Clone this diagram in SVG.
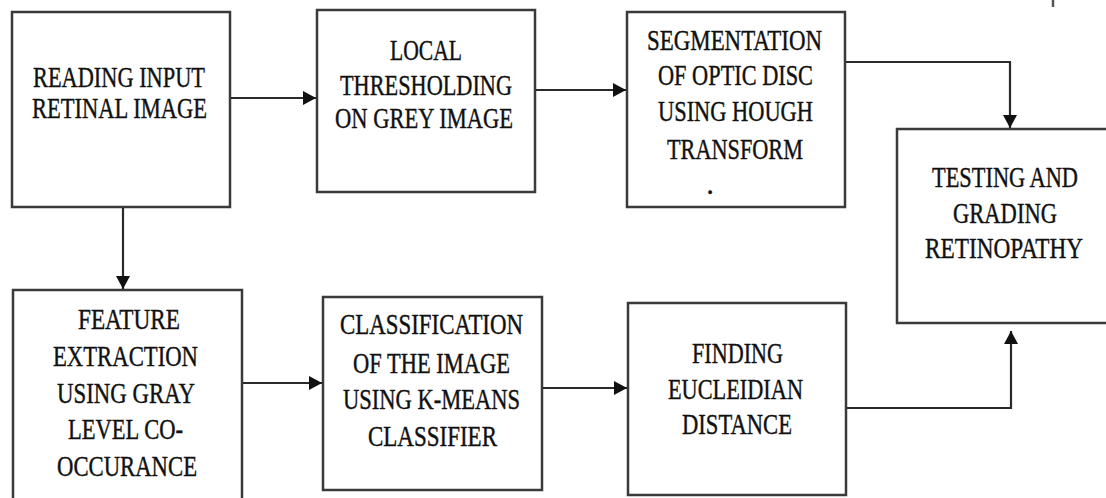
<svg xmlns="http://www.w3.org/2000/svg" width="1106" height="498" viewBox="0 0 1106 498" font-family="Liberation Serif, serif">
<defs>
<style>
.box{fill:#fff;stroke:#3a3a3a;stroke-width:2.5}
.conn{fill:none;stroke:#2a2a2a;stroke-width:2.2}
</style>
<marker id="ah" viewBox="0 0 13 14" refX="13" refY="7" markerWidth="13" markerHeight="14" orient="auto" markerUnits="userSpaceOnUse">
<path d="M0,0 L13,7 L0,14 z" fill="#111"/>
</marker>
</defs>
<rect width="1106" height="498" fill="#fff"/>
<line x1="1053" y1="0" x2="1053" y2="7" stroke="#555" stroke-width="2.5"/>
<g font-family="Liberation Serif, serif" font-size="29" fill="#111" text-anchor="middle" stroke="#111" stroke-width="0.4">
<g id="n1">
<rect class="box" x="12" y="12" width="218" height="195"/>
<text font-family="Liberation Serif" x="119" y="87" textLength="172" lengthAdjust="spacingAndGlyphs">READING INPUT</text>
<text font-family="Liberation Serif" x="119.5" y="118" textLength="175" lengthAdjust="spacingAndGlyphs">RETINAL IMAGE</text>
</g>
<g id="n2">
<rect class="box" x="317" y="10" width="218" height="182"/>
<text font-family="Liberation Serif" x="426" y="60" textLength="72" lengthAdjust="spacingAndGlyphs">LOCAL</text>
<text font-family="Liberation Serif" x="426" y="95" textLength="172" lengthAdjust="spacingAndGlyphs">THRESHOLDING</text>
<text font-family="Liberation Serif" x="424" y="128" textLength="178" lengthAdjust="spacingAndGlyphs">ON GREY IMAGE</text>
</g>
<g id="n3">
<rect class="box" x="627" y="12" width="218" height="195"/>
<text font-family="Liberation Serif" x="734.5" y="50" textLength="175" lengthAdjust="spacingAndGlyphs">SEGMENTATION</text>
<text font-family="Liberation Serif" x="735.5" y="85" textLength="155" lengthAdjust="spacingAndGlyphs">OF OPTIC DISC</text>
<text font-family="Liberation Serif" x="735.5" y="121" textLength="155" lengthAdjust="spacingAndGlyphs">USING HOUGH</text>
<text font-family="Liberation Serif" x="735" y="159" textLength="136" lengthAdjust="spacingAndGlyphs">TRANSFORM</text>
<text font-family="Liberation Serif" x="710" y="194">.</text>
</g>
<g id="n4">
<path class="box" d="M1106,129 H897 V323 H1106"/>
<text font-family="Liberation Serif" x="1005" y="187" textLength="146" lengthAdjust="spacingAndGlyphs">TESTING AND</text>
<text font-family="Liberation Serif" x="1005" y="223" textLength="104" lengthAdjust="spacingAndGlyphs">GRADING</text>
<text font-family="Liberation Serif" x="1004" y="258" textLength="158" lengthAdjust="spacingAndGlyphs">RETINOPATHY</text>
</g>
<g id="n5">
<rect class="box" x="13" y="290" width="229" height="210"/>
<text font-family="Liberation Serif" x="129" y="329" textLength="102" lengthAdjust="spacingAndGlyphs">FEATURE</text>
<text font-family="Liberation Serif" x="125.5" y="366" textLength="145" lengthAdjust="spacingAndGlyphs">EXTRACTION</text>
<text font-family="Liberation Serif" x="126" y="403" textLength="138" lengthAdjust="spacingAndGlyphs">USING GRAY</text>
<text font-family="Liberation Serif" x="125.5" y="439" textLength="115" lengthAdjust="spacingAndGlyphs">LEVEL CO-</text>
<text font-family="Liberation Serif" x="127" y="476" textLength="140" lengthAdjust="spacingAndGlyphs">OCCURANCE</text>
</g>
<g id="n6">
<rect class="box" x="323" y="297" width="219" height="193"/>
<text font-family="Liberation Serif" x="431.5" y="334" textLength="183" lengthAdjust="spacingAndGlyphs">CLASSIFICATION</text>
<text font-family="Liberation Serif" x="431.5" y="373" textLength="157" lengthAdjust="spacingAndGlyphs">OF THE IMAGE</text>
<text font-family="Liberation Serif" x="431.5" y="409" textLength="177" lengthAdjust="spacingAndGlyphs">USING K-MEANS</text>
<text font-family="Liberation Serif" x="432.5" y="446" textLength="129" lengthAdjust="spacingAndGlyphs">CLASSIFIER</text>
</g>
<g id="n7">
<rect class="box" x="628" y="303" width="218" height="192"/>
<text font-family="Liberation Serif" x="737.5" y="363" textLength="91" lengthAdjust="spacingAndGlyphs">FINDING</text>
<text font-family="Liberation Serif" x="735.5" y="399" textLength="135" lengthAdjust="spacingAndGlyphs">EUCLEIDIAN</text>
<text font-family="Liberation Serif" x="737" y="434" textLength="110" lengthAdjust="spacingAndGlyphs">DISTANCE</text>
</g>
</g>
<g id="connectors">
<path class="conn" d="M231,98 H316" marker-end="url(#ah)"/>
<path class="conn" d="M536,90 H626" marker-end="url(#ah)"/>
<path class="conn" d="M846,62 H1010 V128" marker-end="url(#ah)"/>
<path class="conn" d="M123,208 V289" marker-end="url(#ah)"/>
<path class="conn" d="M243,383 H322" marker-end="url(#ah)"/>
<path class="conn" d="M543,388 H627" marker-end="url(#ah)"/>
<path class="conn" d="M847,408 H1011 V331" marker-end="url(#ah)"/>
</g>
</svg>
